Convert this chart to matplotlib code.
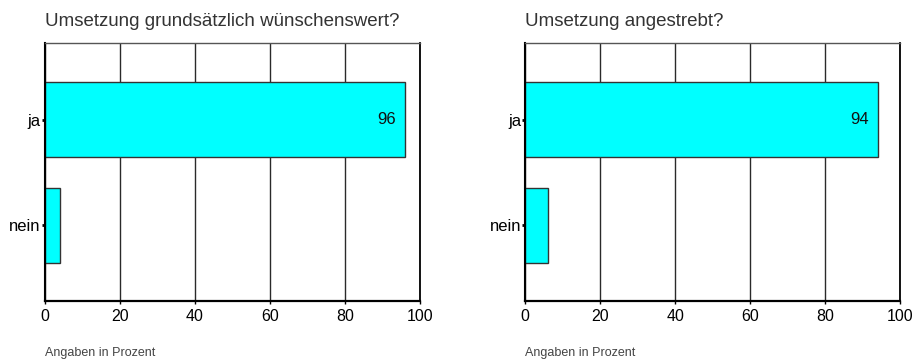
import matplotlib
matplotlib.use('Agg')
import matplotlib.pyplot as plt

plt.rcParams['font.family'] = ['Liberation Sans', 'DejaVu Sans']

categories = ['nein', 'ja']
titles = ['Umsetzung grundsätzlich wünschenswert?', 'Umsetzung angestrebt?']
values_left = [4, 96]
values_right = [6, 94]
xticks = [0, 20, 40, 60, 80, 100]
note = 'Angaben in Prozent'

fig = plt.figure(figsize=(9.13, 3.63), dpi=100)

lefts = [45 / 913, 525.3 / 913]
bottom = 1 - 301 / 363
width = 375 / 913
height = (301 - 43) / 363

for left, title, vals in zip(lefts, titles, [values_left, values_right]):
    ax = fig.add_axes([left, bottom, width, height])
    ax.barh(categories, vals, height=0.71, color='#00ffff',
            edgecolor='#333333', linewidth=1.0, zorder=2)
    ax.set_xlim(0, 100)
    ax.set_ylim(-0.72, 1.73)
    ax.set_xticks(xticks)
    ax.grid(axis='x', color='#2a2a2a', linewidth=1.0, zorder=0)
    ax.set_axisbelow(True)
    ax.tick_params(axis='y', length=2, width=2, pad=1, labelsize=12)
    ax.tick_params(axis='x', length=2, width=1, pad=4, labelsize=11.5)
    ax.spines['left'].set_linewidth(1.5)
    ax.spines['bottom'].set_linewidth(1.6)
    ax.spines['right'].set_linewidth(1.3)
    ax.spines['top'].set_linewidth(1.0)
    ax.spines['top'].set_color('#555555')
    # value label inside the big bar
    ax.text(vals[1] - 2.4, 1, str(vals[1]), ha='right', va='center',
            fontsize=12, color='#111111', zorder=3)
    ax.text(0, 1.05, title, transform=ax.transAxes, ha='left',
            va='bottom', fontsize=13.5, color='#333333')
    ax.text(0, -0.2, note, transform=ax.transAxes, ha='left',
            va='center', fontsize=9, color='#444444')

plt.savefig('out.png', dpi=100)
